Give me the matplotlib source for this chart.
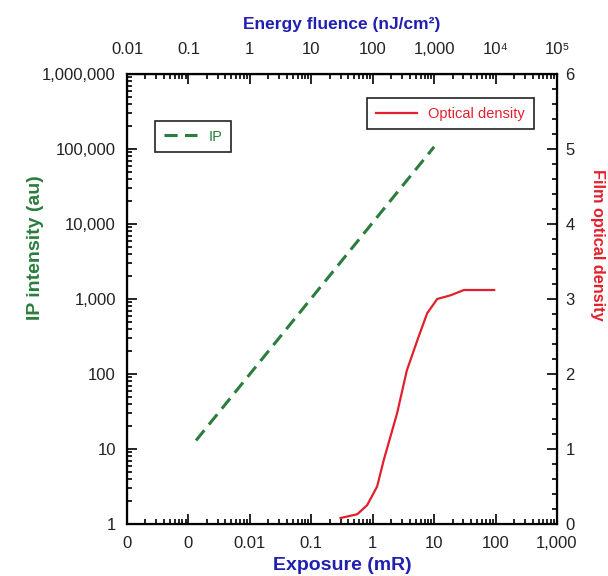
import numpy as np
import matplotlib
matplotlib.use("Agg")
import matplotlib.pyplot as plt
from matplotlib.ticker import FixedLocator, FixedFormatter, LogLocator, NullFormatter, MultipleLocator

plt.rcParams['font.family'] = ['Liberation Sans', 'DejaVu Sans']

# IP intensity vs exposure (log-log)
ip_exposure = [0.00133, 10.0]
ip_intensity = [13, 107000]

# film optical density vs exposure
od_exposure = [0.30, 0.56, 0.81, 1.18, 1.51, 2.5, 3.6, 5.6, 7.7, 11.2, 18.6, 30.6, 95]
od_value = [0.08, 0.13, 0.25, 0.50, 0.85, 1.48, 2.05, 2.5, 2.81, 3.0, 3.05, 3.12, 3.12]

x_ticks = [1e-4, 1e-3, 1e-2, 1e-1, 1, 10, 100, 1000]
x_labels = ["0", "0", "0.01", "0.1", "1", "10", "100", "1,000"]
top_labels = ["0.01", "0.1", "1", "10", "100", "1,000", "10\u2074", "10\u2075"]
y_ticks = [1, 10, 100, 1e3, 1e4, 1e5, 1e6]
y_labels = ["1", "10", "100", "1,000", "10,000", "100,000", "1,000,000"]

green = "#2a7d3c"
red = "#e2202c"
blue = "#2020b0"

fig = plt.figure(figsize=(6.08, 5.76), dpi=100, facecolor="white")
ax = fig.add_subplot(1, 1, 1)
fig.subplots_adjust(left=127/608, right=557/608, bottom=1-524/576, top=1-74/576)

ax.set_xscale('log')
ax.set_yscale('log')
ax.set_xlim(1e-4, 1e3)
ax.set_ylim(1, 1e6)

ip_line, = ax.plot(ip_exposure, ip_intensity, color=green, lw=2.2,
                   linestyle=(0, (4.3, 2.4)), label="IP")

ax.xaxis.set_major_locator(FixedLocator(x_ticks))
ax.xaxis.set_major_formatter(FixedFormatter(x_labels))
ax.xaxis.set_minor_locator(LogLocator(base=10, subs=np.arange(2, 10), numticks=20))
ax.xaxis.set_minor_formatter(NullFormatter())
ax.yaxis.set_major_locator(FixedLocator(y_ticks))
ax.yaxis.set_major_formatter(FixedFormatter(y_labels))
ax.yaxis.set_minor_locator(LogLocator(base=10, subs=np.arange(2, 10), numticks=20))
ax.yaxis.set_minor_formatter(NullFormatter())

ax.tick_params(which='both', direction='in', top=False, right=False, labelsize=12,
               width=1.2, labelcolor='#222222')
ax.tick_params(axis='x', pad=9)
ax.tick_params(axis='y', pad=8)
ax.tick_params(which='major', length=7)
ax.tick_params(which='minor', length=3.5)
for s in ax.spines.values():
    s.set_linewidth(1.6)

ax2 = ax.twinx()
ax2.set_ylim(0, 6)
od_line, = ax2.plot(od_exposure, od_value, color=red, lw=1.6, label="Optical density")
ax2.yaxis.set_major_locator(MultipleLocator(1))
ax2.yaxis.set_minor_locator(MultipleLocator(0.2))
ax2.tick_params(which='both', direction='in', labelsize=12, width=1.2, pad=6,
                labelcolor='#222222')
ax2.tick_params(which='major', length=7)
ax2.tick_params(which='minor', length=3.5)

top = ax.secondary_xaxis('top', functions=(lambda x: x * 100, lambda x: x / 100))
top.xaxis.set_major_locator(FixedLocator([1e-2, 1e-1, 1, 10, 100, 1e3, 1e4, 1e5]))
top.xaxis.set_major_formatter(FixedFormatter(top_labels))
top.xaxis.set_minor_locator(LogLocator(base=10, subs=np.arange(2, 10), numticks=20))
top.xaxis.set_minor_formatter(NullFormatter())
top.tick_params(which='both', direction='in', labelsize=12, width=1.2, pad=12.5,
                labelcolor='#222222')
top.tick_params(which='major', length=7)
top.tick_params(which='minor', length=3.5)

ax.set_xlabel("Exposure (mR)", fontsize=14, fontweight='bold', color=blue, labelpad=4)
top.set_xlabel("Energy fluence (nJ/cm\u00b2)", fontsize=12.5, fontweight='bold', color=blue,
               labelpad=9)
fig.text(36/608, 1-248/576, "IP intensity (au)", rotation=90, fontsize=14, fontweight='bold',
         color=green, ha='center', va='center')
fig.text(597/608, 1-245/576, "Film optical density", rotation=270, fontsize=11.7,
         fontweight='bold', color=red, ha='center', va='center')

leg1 = ax.legend(handles=[ip_line], loc='upper left', bbox_to_anchor=(0.065, 0.896),
                 borderaxespad=0, fontsize=10.5, labelcolor=green, fancybox=False,
                 edgecolor='#222222', framealpha=1, handlelength=2.25, borderpad=0.6)
leg1.get_frame().set_linewidth(1.2)
leg2 = ax2.legend(handles=[od_line], loc='upper right', bbox_to_anchor=(0.9465, 0.9467),
                  borderaxespad=0, fontsize=10.5, labelcolor=red, fancybox=False,
                  edgecolor='#222222', framealpha=1, handlelength=2.8, borderpad=0.6)
leg2.get_frame().set_linewidth(1.2)

fig.savefig("out.png", dpi=100, facecolor="white")
